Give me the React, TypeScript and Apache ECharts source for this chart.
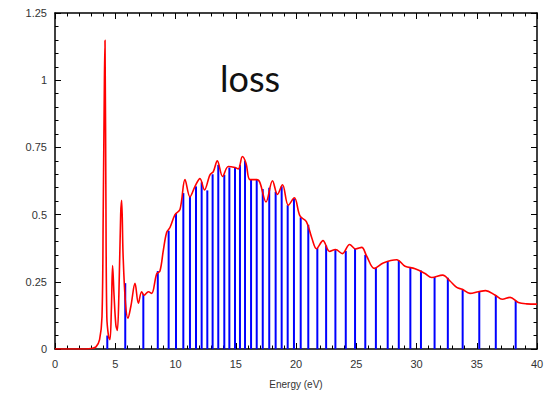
import React, { useEffect, useRef } from "react";
import * as echarts from "echarts";

// Loss function curve: energy (eV) and value
const curveEnergy = [
  0, 1, 2, 3, 3.4, 3.7, 3.9, 4.0, 4.1, 4.15, 4.22, 4.3, 4.45, 4.56, 4.68, 4.78, 4.9,
  5.05, 5.17, 5.3, 5.45, 5.53, 5.65, 5.85, 6.05, 6.3, 6.64, 6.92, 7.19, 7.4, 7.75,
  8.02, 8.44, 8.71, 8.99, 9.27, 9.54, 9.96, 10.37, 10.79, 11.2, 11.62, 12.03, 12.4,
  12.86, 13.14, 13.47, 13.91, 14.38, 14.94, 15.21, 15.55, 15.85, 16.18, 16.74, 17.0,
  17.51, 18.05, 18.46, 18.88, 19.36, 19.86, 20.33, 20.86, 21.3, 21.7, 22.24, 22.79,
  23.28, 23.85, 24.45, 24.95, 25.45, 25.87, 26.5, 27.24, 28.36, 29.05, 29.88, 30.71,
  31.26, 32.17, 32.78, 33.34, 33.8, 34.44, 35.13, 35.74, 36.51, 37.12, 37.76, 38.45,
  39.14, 40,
];
const curveValue = [
  0, 0, 0, 0.002, 0.008, 0.035, 0.12, 0.5, 1.0, 1.148, 0.6, 0.12, 0.045, 0.035, 0.15,
  0.31, 0.2, 0.09, 0.069, 0.2, 0.5, 0.553, 0.35, 0.17, 0.115, 0.16, 0.244, 0.17, 0.213,
  0.2, 0.213, 0.207, 0.28, 0.29, 0.367, 0.434, 0.452, 0.5, 0.519, 0.63, 0.566, 0.605,
  0.634, 0.592, 0.648, 0.66, 0.7, 0.642, 0.679, 0.675, 0.67, 0.716, 0.691, 0.63, 0.63,
  0.62, 0.547, 0.626, 0.575, 0.611, 0.535, 0.5625, 0.495, 0.474, 0.415, 0.373, 0.403,
  0.363, 0.37, 0.355, 0.389, 0.372, 0.378, 0.345, 0.3, 0.32, 0.332, 0.308, 0.299, 0.281,
  0.266, 0.275, 0.253, 0.229, 0.222, 0.207, 0.213, 0.217, 0.201, 0.185, 0.192, 0.173,
  0.168, 0.167,
];

// Stems (blue vertical lines)
const stemEnergy = [
  4.34, 5.83, 7.33, 8.53, 9.43, 10.04, 10.65, 11.2, 11.7, 12.17, 12.64, 13.08, 13.55,
  14.05, 14.47, 14.94, 15.35, 15.77, 16.27, 16.74, 17.24, 17.78, 18.31, 18.81, 19.31,
  19.83, 20.39, 21.02, 21.77, 22.5, 23.27, 24.13, 24.9, 25.75, 26.63, 27.61, 28.53,
  29.49, 30.37, 31.5, 32.6, 33.83, 35.21, 36.58, 38.23,
];
const stemValue = [
  0.05, 0.245, 0.205, 0.29, 0.44, 0.505, 0.58, 0.566, 0.605, 0.62, 0.59, 0.65, 0.685,
  0.648, 0.675, 0.674, 0.685, 0.7, 0.63, 0.63, 0.595, 0.6, 0.585, 0.605, 0.535, 0.56,
  0.49, 0.462, 0.375, 0.385, 0.368, 0.365, 0.373, 0.35, 0.302, 0.325, 0.33, 0.305,
  0.292, 0.268, 0.265, 0.222, 0.213, 0.2, 0.18,
];

const xTicks = { min: 0, max: 40, interval: 5 };
const yTicks = { min: 0, max: 1.25, interval: 0.25 };
const xTitle = "Energy (eV)";
const annotation = "loss";

export default function App() {
  const ref = useRef<HTMLDivElement>(null);
  useEffect(() => {
    if (!ref.current) return;
    const chart = echarts.init(ref.current, null, { renderer: "svg" });
    const lineColor = "#000";
    const labelStyle = {
      color: "#333",
      fontFamily: "Liberation Sans, Arial, sans-serif",
      fontSize: 11,
    };
    const baseX = {
      type: "value" as const,
      min: xTicks.min,
      max: xTicks.max,
      interval: xTicks.interval,
      axisLine: { show: true, onZero: false, lineStyle: { color: lineColor, width: 1.5 } },
      axisTick: { show: true, inside: true, length: 6, lineStyle: { color: lineColor, width: 1 } },
      minorTick: { show: true, splitNumber: 5, length: 3.5, lineStyle: { color: lineColor, width: 1 } },
      splitLine: { show: false },
    };
    const baseY = {
      type: "value" as const,
      min: yTicks.min,
      max: yTicks.max,
      interval: yTicks.interval,
      axisLine: { show: true, onZero: false, lineStyle: { color: lineColor, width: 1.5 } },
      axisTick: { show: true, inside: true, length: 6, lineStyle: { color: lineColor, width: 1 } },
      minorTick: { show: true, splitNumber: 5, length: 3.5, lineStyle: { color: lineColor, width: 1 } },
      splitLine: { show: false },
    };
    chart.setOption({
      animation: false,
      backgroundColor: "#fff",
      grid: { left: 55, right: 17, top: 13, bottom: 41, containLabel: false },
      xAxis: [
        {
          ...baseX,
          position: "bottom",
          axisLabel: { ...labelStyle, margin: 9 },
          name: xTitle,
          nameLocation: "middle",
          nameGap: 30,
          nameTextStyle: { ...labelStyle, fontSize: 10 },
        },
        { ...baseX, position: "top", axisLabel: { show: false } },
      ],
      yAxis: [
        { ...baseY, position: "left", axisLabel: { ...labelStyle, margin: 8 } },
        { ...baseY, position: "right", axisLabel: { show: false } },
      ],
      graphic: [
        {
          type: "text",
          left: 220,
          top: 60,
          style: {
            text: annotation,
            fontFamily: "Lato, sans-serif",
            fontSize: 36,
            fill: "#111",
          },
        },
      ],
      series: [
        {
          type: "bar",
          xAxisIndex: 0,
          yAxisIndex: 0,
          barWidth: 2,
          data: stemEnergy.map((e, i) => [e, stemValue[i]]),
          itemStyle: { color: "#0000ff" },
          z: 2,
        },
        {
          type: "line",
          xAxisIndex: 0,
          yAxisIndex: 0,
          data: curveEnergy.map((e, i) => [e, curveValue[i]]),
          showSymbol: false,
          smooth: 0.35,
          lineStyle: { color: "#ff0000", width: 1.6 },
          z: 3,
        },
      ],
    });
    return () => chart.dispose();
  }, []);
  return (
    <div
      ref={ref}
      style={{ position: "fixed", left: 0, top: 0, width: 554, height: 394, background: "#fff" }}
    />
  );
}
